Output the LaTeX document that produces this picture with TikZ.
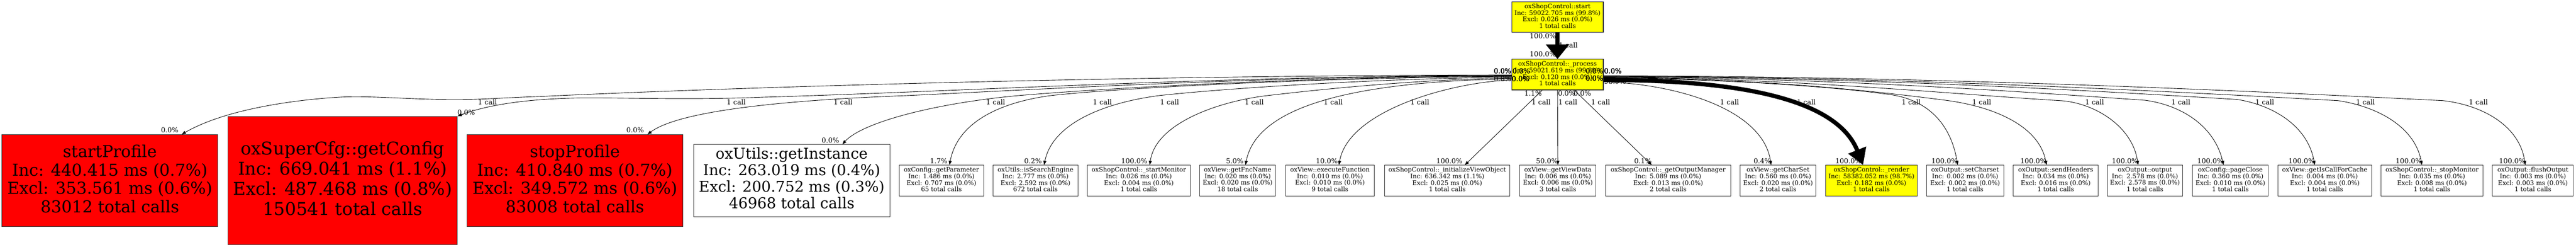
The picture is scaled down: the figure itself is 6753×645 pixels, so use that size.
\documentclass[tikz,border=0pt]{standalone}
\usepackage{fontspec}
\setmainfont{DejaVu Serif}
\usetikzlibrary{arrows.meta,calc}
\definecolor{gvred}{RGB}{255,0,0}
\definecolor{gvyel}{RGB}{255,255,0}
\newcommand{\lowstrut}[1]{\rule[-#1]{0pt}{#1}}
\begin{document}
\begin{tikzpicture}[x=1pt,y=-1pt,
  fnbox/.style={draw=black!80, line width=1.4pt, inner sep=0pt, align=center, minimum height=80pt, font=\fontsize{16.3}{17.3}\selectfont},
  bignode/.style={draw=black!80, line width=1.4pt, inner sep=0pt, align=center},
  elab/.style={font=\fontsize{18}{20}\selectfont, inner sep=0pt},
  calledge/.style={draw=black, line width=1.2pt, -{Triangle[length=11pt,width=8pt]}},
  heavyedge/.style={draw=black, line width=11pt, -{Triangle[length=38pt,width=59pt]}},
]
\useasboundingbox (0,0) rectangle (6753,645);
\fill[white] (0,0) rectangle (6753,645);

% ---------- nodes ----------
\node[fnbox, fill=gvyel, minimum width=240pt] (st) at (4083,45) {oxShopControl::start\\Inc: 59022.705 ms (99.8\%)\\Excl: 0.026 ms (0.0\%)\\1 total calls\lowstrut{6.4pt}};
\node[fnbox, fill=gvyel, minimum width=240pt] (pr) at (4083,195) {oxShopControl::\_process\\Inc: 59021.619 ms (99.8\%)\\Excl: 0.120 ms (0.0\%)\\1 total calls\lowstrut{6.4pt}};

\node[bignode, fill=gvred, minimum width=566pt, minimum height=240pt, font=\fontsize{43}{48}\selectfont] (sp) at (288,472) {startProfile\\Inc: 440.415 ms (0.7\%)\\Excl: 353.561 ms (0.6\%)\\83012 total calls\lowstrut{10pt}};
\node[bignode, fill=gvred, minimum width=602pt, minimum height=336pt, font=\fontsize{46}{52.3}\selectfont] (cfg) at (898,472) {oxSuperCfg::getConfig\\Inc: 669.041 ms (1.1\%)\\Excl: 487.468 ms (0.8\%)\\150541 total calls\lowstrut{12pt}};
\node[bignode, fill=gvred, minimum width=566pt, minimum height=240pt, font=\fontsize{43}{48}\selectfont] (stp) at (1507,472) {stopProfile\\Inc: 410.840 ms (0.7\%)\\Excl: 349.572 ms (0.6\%)\\83008 total calls\lowstrut{10pt}};
\node[bignode, fill=white, minimum width=515pt, minimum height=188pt, font=\fontsize{39}{43.5}\selectfont] (gi) at (2075.5,472) {oxUtils::getInstance\\Inc: 263.019 ms (0.4\%)\\Excl: 200.752 ms (0.3\%)\\46968 total calls\lowstrut{13pt}};

\node[fnbox, fill=white, minimum width=222pt] (gp) at (2468,472) {oxConfig::getParameter\\Inc: 1.486 ms (0.0\%)\\Excl: 0.707 ms (0.0\%)\\65 total calls\lowstrut{6.4pt}};
\node[fnbox, fill=white, minimum width=223pt] (ise) at (2714.5,472) {oxUtils::isSearchEngine\\Inc: 2.777 ms (0.0\%)\\Excl: 2.592 ms (0.0\%)\\672 total calls\lowstrut{6.4pt}};
\node[fnbox, fill=white, minimum width=271pt] (stm) at (2985.5,472) {oxShopControl::\_startMonitor\\Inc: 0.026 ms (0.0\%)\\Excl: 0.004 ms (0.0\%)\\1 total calls\lowstrut{6.4pt}};
\node[fnbox, fill=white, minimum width=199pt] (gfn) at (3244.5,472) {oxView::getFncName\\Inc: 0.020 ms (0.0\%)\\Excl: 0.020 ms (0.0\%)\\18 total calls\lowstrut{6.4pt}};
\node[fnbox, fill=white, minimum width=233pt] (ef) at (3486.5,472) {oxView::executeFunction\\Inc: 0.010 ms (0.0\%)\\Excl: 0.010 ms (0.0\%)\\9 total calls\lowstrut{6.4pt}};
\node[fnbox, fill=white, minimum width=328pt] (ivo) at (3794,472) {oxShopControl::\_initializeViewObject\\Inc: 636.342 ms (1.1\%)\\Excl: 0.025 ms (0.0\%)\\1 total calls\lowstrut{6.4pt}};
\node[fnbox, fill=white, minimum width=200pt] (gvd) at (4084,472) {oxView::getViewData\\Inc: 0.006 ms (0.0\%)\\Excl: 0.006 ms (0.0\%)\\3 total calls\lowstrut{6.4pt}};
\node[fnbox, fill=white, minimum width=328pt] (gom) at (4373,472) {oxShopControl::\_getOutputManager\\Inc: 5.089 ms (0.0\%)\\Excl: 0.013 ms (0.0\%)\\2 total calls\lowstrut{6.4pt}};
\node[fnbox, fill=white, minimum width=198pt] (gcs) at (4661,472) {oxView::getCharSet\\Inc: 0.560 ms (0.0\%)\\Excl: 0.020 ms (0.0\%)\\2 total calls\lowstrut{6.4pt}};
\node[fnbox, fill=gvyel, minimum width=240pt] (rnd) at (4906,472) {oxShopControl::\_render\\Inc: 58382.052 ms (98.7\%)\\Excl: 0.182 ms (0.0\%)\\1 total calls\lowstrut{6.4pt}};
\node[fnbox, fill=white, minimum width=203pt] (scs) at (5151.5,472) {oxOutput::setCharset\\Inc: 0.002 ms (0.0\%)\\Excl: 0.002 ms (0.0\%)\\1 total calls\lowstrut{6.4pt}};
\node[fnbox, fill=white, minimum width=222pt] (sh) at (5389,472) {oxOutput::sendHeaders\\Inc: 0.034 ms (0.0\%)\\Excl: 0.016 ms (0.0\%)\\1 total calls\lowstrut{6.4pt}};
\node[fnbox, fill=white, minimum width=198pt] (out) at (5623,472) {oxOutput::output\\Inc: 2.578 ms (0.0\%)\\Excl: 2.578 ms (0.0\%)\\1 total calls\lowstrut{6.4pt}};
\node[fnbox, fill=white, minimum width=198pt] (pc) at (5847,472) {oxConfig::pageClose\\Inc: 0.360 ms (0.0\%)\\Excl: 0.010 ms (0.0\%)\\1 total calls\lowstrut{6.4pt}};
\node[fnbox, fill=white, minimum width=245pt] (gic) at (6094.5,472) {oxView::getIsCallForCache\\Inc: 0.004 ms (0.0\%)\\Excl: 0.004 ms (0.0\%)\\1 total calls\lowstrut{6.4pt}};
\node[fnbox, fill=white, minimum width=267pt] (spm) at (6375.5,472) {oxShopControl::\_stopMonitor\\Inc: 0.035 ms (0.0\%)\\Excl: 0.008 ms (0.0\%)\\1 total calls\lowstrut{6.4pt}};
\node[fnbox, fill=white, minimum width=212pt] (fo) at (6640,472) {oxOutput::flushOutput\\Inc: 0.003 ms (0.0\%)\\Excl: 0.003 ms (0.0\%)\\1 total calls\lowstrut{6.4pt}};

% ---------- labels: start -> process ----------
\node[elab, anchor=base east] (l0t) at (4079,101) {100.0\%};
\node[elab, anchor=base east] (l0h) at (4079,148) {100.0\%};
\node[elab, anchor=base west] (l0c) at (4086,125) {1 call};

% ---------- tail labels at process ----------
\node[elab, anchor=base east] (ta1) at (3962,193) {0.0\%};
\node[elab, anchor=base east] (ta2) at (3962,193) {0.0\%};
\node[elab, anchor=base east] (ta3) at (3962,193) {0.0\%};
\node[elab, anchor=base west] (ta4) at (3965,193) {0.0\%};
\node[elab, anchor=base west] (ta5) at (3965,193) {0.0\%};
\node[elab, anchor=base east] (ta6) at (3962,213) {0.0\%};
\node[elab, anchor=base west] (ta7) at (3963,213) {0.0\%};
\node[elab, anchor=base west] (ta8) at (3963,213) {0.0\%};
\node[elab, anchor=base west] (ta9) at (3963,213) {0.0\%};
\node[elab, anchor=base east] (tb1) at (4203,193) {0.0\%};
\node[elab, anchor=base east] (tb2) at (4203,193) {0.0\%};
\node[elab, anchor=base west] (tb3) at (4205,193) {0.0\%};
\node[elab, anchor=base west] (tb4) at (4205,193) {0.0\%};
\node[elab, anchor=base west] (tb5) at (4205,193) {0.0\%};
\node[elab, anchor=base east] (tb6) at (4203,212) {0.0\%};
\node[elab, anchor=base east] (tb7) at (4203,212) {0.0\%};
\node[elab, anchor=base east] (tb8) at (4203,212) {0.0\%};
\node[elab, anchor=base west] (tb9) at (4205,220) {98.9\%};
\node[elab, anchor=base east] (tc1) at (4042,250) {1.1\%};
\node[elab, anchor=base west] (tc2) at (4084,250) {0.0\%};
\node[elab, anchor=base west] (tc3) at (4125,250) {0.0\%};

% ---------- "1 call" labels ----------
\foreach \cx [count=\i] in {1278,1930,2210,2610,2890,3066,3288,3495,3722,4040,4110,4196,4534,4735,5010,5195,5491,5717,5937,6201,6497}
  \node[elab, anchor=base] (cl\i) at (\cx,274) {1 call};

% ---------- head labels ----------
\node[elab, anchor=base east] (hsp) at (468,347) {0.0\%};
\node[elab, anchor=base west] (hcfg) at (1199,300) {0.0\%};
\node[elab, anchor=base east] (hstp) at (1688,347) {0.0\%};
\node[elab, anchor=base east] (hgi) at (2200,373) {0.0\%};
\node[elab, anchor=base east] (hgp) at (2484,427) {1.7\%};
\node[elab, anchor=base east] (hise) at (2731,427) {0.2\%};
\node[elab, anchor=base east] (hstm) at (3008,427) {100.0\%};
\node[elab, anchor=base east] (hgfn) at (3260,427) {5.0\%};
\node[elab, anchor=base east] (hef) at (3507,427) {10.0\%};
\node[elab, anchor=base east] (hivo) at (3834,427) {100.0\%};
\node[elab, anchor=base east] (hgvd) at (4084,427) {50.0\%};
\node[elab, anchor=base east] (hgom) at (4330,427) {0.1\%};
\node[elab, anchor=base east] (hgcs) at (4643,427) {0.4\%};
\node[elab, anchor=base east] (hrnd) at (4880,427) {100.0\%};
\node[elab, anchor=base east] (hscs) at (5132,427) {100.0\%};
\node[elab, anchor=base east] (hsh) at (5365,427) {100.0\%};
\node[elab, anchor=base east] (hout) at (5605,427) {100.0\%};
\node[elab, anchor=base east] (hpc) at (5829,427) {100.0\%};
\node[elab, anchor=base east] (hgic) at (6068,427) {100.0\%};
\node[elab, anchor=base east] (hspm) at (6349,427) {100.0\%};
\node[elab, anchor=base east] (hfo) at (6620,427) {100.0\%};

% ---------- edges ----------
\draw[heavyedge] (st.south) -- (pr.north);

% left
\draw[calledge] ($(pr.west)+(0,1)$) .. controls (3000,197) and (2000,225) .. (1420,252)
  .. controls (1300,256) and (1250,262) .. (1155,260)
  .. controls (1050,258) and (960,250) .. (890,254)
  .. controls (800,259) and (600,280) .. ($(sp.north west)+(472,0)$);
\draw[calledge] ($(pr.west)+(0,2)$) .. controls (3200,198) and (2500,240) .. (2000,254)
  .. controls (1800,262) and (1650,255) .. (1522,256)
  .. controls (1400,258) and (1290,270) .. (cfg.north east);
\draw[calledge] ($(pr.west)+(0,3)$) .. controls (3300,199) and (2700,235) .. (2374,250)
  .. controls (2050,262) and (1780,290) .. ($(stp.north west)+(474,0)$);
\draw[calledge] ($(pr.west)+(0,4)$) .. controls (3450,200) and (2900,230) .. (2668,250)
  .. controls (2450,270) and (2260,320) .. ($(gi.north west)+(391,0)$);
\draw[calledge] ($(pr.west)+(0,5)$) .. controls (3500,202) and (2950,228) .. (2753,250)
  .. controls (2620,268) and (2510,320) .. ($(gp.north)+(21,0)$);
\draw[calledge] ($(pr.west)+(0,7)$) .. controls (3600,205) and (3200,232) .. (3037,250)
  .. controls (2900,268) and (2760,320) .. ($(ise.north)+(22.5,0)$);
\draw[calledge] ($(pr.west)+(0,9)$) .. controls (3700,208) and (3450,235) .. (3321,250)
  .. controls (3200,264) and (3030,320) .. ($(stm.north)+(28.5,0)$);
\draw[calledge] ($(pr.west)+(0,11)$) .. controls (3650,212) and (3300,250) .. ($(gfn.north)+(20.5,0)$);
\draw[calledge] ($(pr.west)+(0,14)$) .. controls (3800,215) and (3535,290) .. ($(ef.north)+(23.5,0)$);

% down
\draw[calledge] ($(pr.south)+(-40,0)$) -- ($(ivo.north)+(46,0)$);
\draw[calledge] (pr.south) -- (gvd.north);
\draw[calledge] ($(pr.south)+(44,0)$) -- ($(gom.north)+(-43,0)$);

% right
\draw[calledge] ($(pr.east)+(0,19)$) .. controls (4380,218) and (4620,280) .. ($(gcs.north)+(-18,0)$);
\draw[heavyedge, -{Triangle[length=42pt,width=48pt]}] ($(pr.east)+(0,14)$) .. controls (4600,209) and (4820,270) .. ($(rnd.north)+(-22,0)$);
\draw[calledge] ($(pr.east)+(0,9)$) .. controls (4500,206) and (4800,225) .. (4960,248)
  .. controls (5060,264) and (5115,330) .. ($(scs.north)+(-19.5,0)$);
\draw[calledge] ($(pr.east)+(0,8)$) .. controls (4650,205) and (4950,243) .. (5100,262)
  .. controls (5230,279) and (5345,330) .. ($(sh.north)+(-24,0)$);
\draw[calledge] ($(pr.east)+(0,7)$) .. controls (4700,204) and (5100,245) .. (5400,263)
  .. controls (5490,268) and (5590,330) .. ($(out.north)+(-18,0)$);
\draw[calledge] ($(pr.east)+(0,6)$) .. controls (4800,203) and (5300,240) .. (5623,262)
  .. controls (5720,275) and (5805,330) .. ($(pc.north)+(-18,0)$);
\draw[calledge] ($(pr.east)+(0,5)$) .. controls (4900,202) and (5500,238) .. (5865,260)
  .. controls (5960,275) and (6050,330) .. ($(gic.north)+(-26.5,0)$);
\draw[calledge] ($(pr.east)+(0,4)$) .. controls (5000,201) and (5700,240) .. (6129,263)
  .. controls (6230,278) and (6330,330) .. ($(spm.north)+(-26.5,0)$);
\draw[calledge] ($(pr.east)+(0,3)$) .. controls (5100,200) and (5900,238) .. (6404,263)
  .. controls (6510,275) and (6605,330) .. ($(fo.north)+(-20,0)$);
\end{tikzpicture}
\end{document}
